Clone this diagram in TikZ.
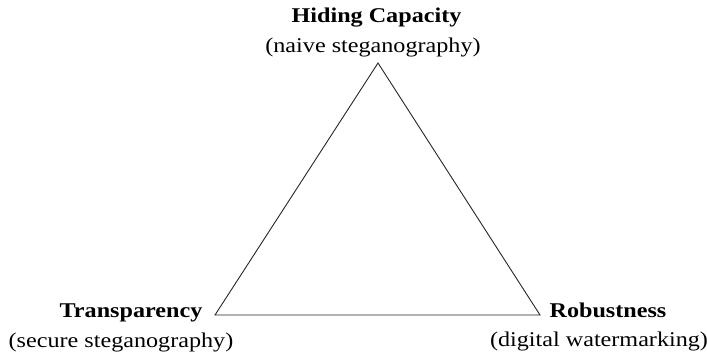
\documentclass[tikz,border=0pt]{standalone}
\usepackage{fontspec}
\setmainfont{Liberation Serif}[FakeStretch=1.15]
\begin{document}
\begin{tikzpicture}[x=1pt,y=-1pt,
  title/.style={anchor=base,inner sep=0pt,font=\fontsize{21}{25}\selectfont\bfseries},
  sub/.style={anchor=base,inner sep=0pt,font=\fontsize{21}{25}\selectfont},
  edge/.style={draw=black!85,line width=0.9pt,line join=miter}]
\useasboundingbox (0,0) rectangle (707,364);
\coordinate (A) at (378,63);
\coordinate (L) at (215,315);
\coordinate (R) at (540,315);
\draw[edge] (A) -- (L) -- (R) -- cycle;
\node[title] (hc) at (376.5,23) {Hiding Capacity};
\node[sub] (ns) at (373,52) {(naive steganography)};
\node[title] (tr) at (131,317) {Transparency};
\node[sub] (ss) at (121,347) {(secure steganography)};
\node[title] (rb) at (608,317) {Robustness};
\node[sub] (dw) at (599,346) {(digital watermarking)};
\end{tikzpicture}
\end{document}
